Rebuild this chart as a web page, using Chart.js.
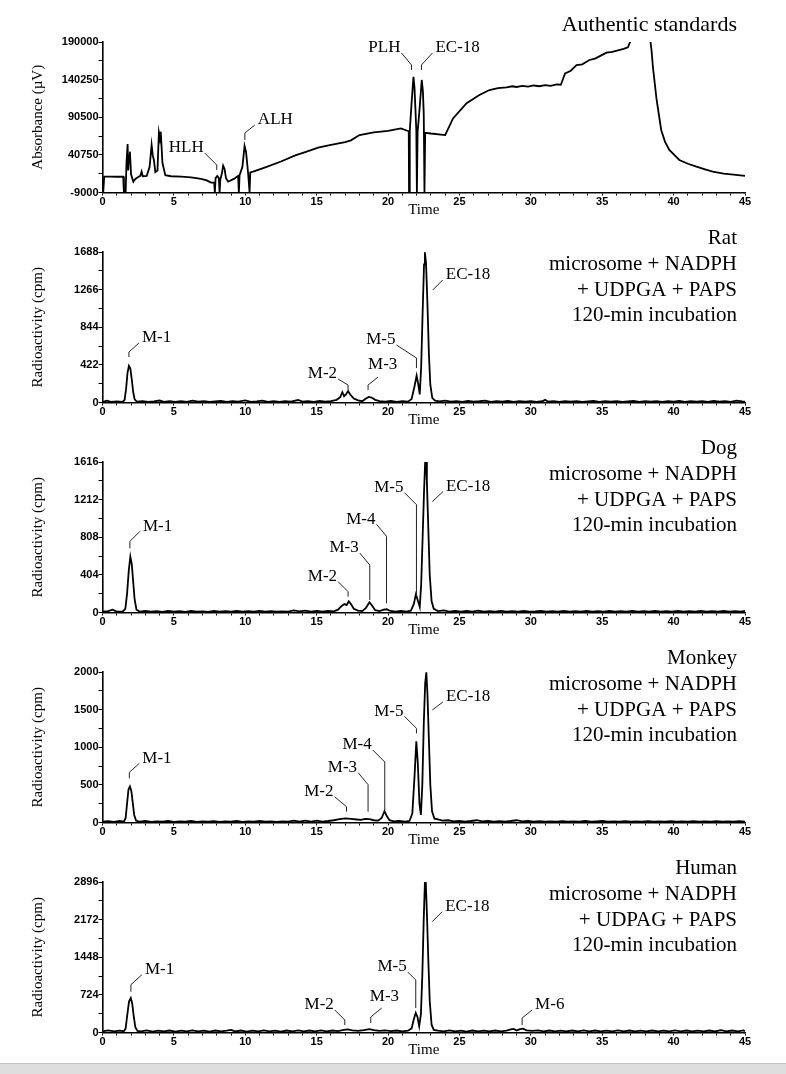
<!DOCTYPE html>
<html>
<head>
<meta charset="utf-8">
<script src="https://cdn.jsdelivr.net/npm/chart.js@4.4.1/dist/chart.umd.min.js"></script>
<style>
  html, body { margin: 0; padding: 0; background: #fff; }
  #wrap { position: relative; width: 786px; height: 1074px; overflow: hidden; }
  #wrap canvas { position: absolute; left: 0; }
  #band { position: absolute; left: 0; top: 1063px; width: 786px; height: 11px; background: #dedede; border-top: 1px solid #c4c4c4; }
</style>
</head>
<body>
<div id="wrap">
  <canvas id="p0" width="786" height="224" style="top:0px"></canvas>
  <canvas id="p1" width="786" height="224" style="top:210px"></canvas>
  <canvas id="p2" width="786" height="224" style="top:420px"></canvas>
  <canvas id="p3" width="786" height="224" style="top:630px"></canvas>
  <canvas id="p4" width="786" height="224" style="top:840px"></canvas>
  <div id="band"></div>
</div>
<script>
// ---- data: [time (min), signal] ----
const timeTicks = [0, 5, 10, 15, 20, 25, 30, 35, 40, 45];

const standardsTicks = [-9000, 40750, 90500, 140250, 190000];
const standardsTrace = [
  [0.05,-9000],[0.12,12000],[0.5,12000],[1.0,11800],[1.45,12000],[1.5,-9000],[1.62,-9000],
  [1.68,30000],[1.76,55000],[1.8,20000],[1.86,40000],[1.92,45000],[2.0,15000],[2.16,5300],
  [2.3,9000],[2.5,11500],[2.65,13000],[2.74,18500],[2.82,12500],[3.1,13000],[3.3,25000],
  [3.44,53800],[3.52,40000],[3.6,34000],[3.7,18000],[3.85,20000],[3.95,70000],[4.02,62000],
  [4.08,71400],[4.2,30000],[4.4,14000],[4.8,12500],[5.5,12000],[6.2,11000],[6.9,9000],
  [7.3,7000],[7.6,4000],[7.82,4200],[7.87,-9000],[7.92,10000],[8.04,12800],[8.15,10000],
  [8.2,-9000],[8.25,8000],[8.35,15000],[8.45,26400],[8.55,22000],[8.65,10000],[8.8,5300],
  [9.2,9000],[9.5,13000],[9.55,-9000],[9.6,14000],[9.8,25000],[9.95,52500],[10.05,45000],
  [10.2,16500],[10.3,-9000],[10.35,17500],[10.55,18500],[11.5,25000],[12.5,32000],
  [13.5,40000],[14.3,45000],[15.1,50200],[16.0,54000],[17.0,57500],[17.4,60000],[18.0,67000],
  [19.0,70500],[20.0,72500],[20.9,75800],[21.3,73000],[21.45,72000],[21.47,-9000],
  [21.52,72000],[21.65,110000],[21.78,144000],[21.85,130000],[21.92,100000],[21.98,72000],
  [22.02,-9000],[22.07,71000],[22.2,100000],[22.36,139800],[22.44,125000],[22.5,95000],
  [22.55,-9000],[22.6,70000],[23.0,69000],[24.0,67000],[24.55,89000],[25.5,109000],
  [26.4,120000],[27.1,126500],[27.7,129000],[28.3,130000],[28.7,131500],[29.0,130500],
  [29.4,132000],[29.8,131000],[30.2,132500],[30.6,131500],[31.0,133000],[31.4,132000],
  [31.8,134000],[32.1,133500],[32.4,148600],[32.8,152000],[33.2,159600],[33.6,160500],
  [34.1,166200],[34.5,168000],[34.9,172000],[35.3,176000],[35.7,177000],[36.1,179000],
  [36.5,181000],[36.8,183000],[36.95,190000],[37.05,230000],[38.3,230000],[38.38,190000],
  [38.45,180000],[38.55,157000],[38.8,115000],[39.13,73700],[39.4,58000],[39.7,47200],
  [40.4,34000],[41.0,29000],[41.6,25100],[42.2,21500],[42.74,18500],[43.5,16000],
  [44.2,14500],[45.0,13000]
];

const ratTicks = [0, 422, 844, 1266, 1688];
const ratTrace = [
  [0,5],[0.3,20],[0.6,8],[1.0,12],[1.4,6],[1.55,30],[1.65,150],[1.75,330],[1.85,410],[1.95,380],
  [2.05,260],[2.15,120],[2.25,35],[2.4,10],[2.8,15],[3.2,6],[3.6,12],[4.0,22],[4.3,8],[4.7,14],
  [5.1,6],[5.5,16],[5.9,8],[6.3,20],[6.7,10],[7.1,14],[7.5,6],[7.9,12],[8.3,18],[8.7,8],
  [9.1,14],[9.5,10],[10.0,24],[10.4,8],[10.8,12],[11.2,20],[11.6,8],[12.0,14],[12.4,6],
  [12.8,16],[13.2,10],[13.7,28],[14.0,10],[14.4,16],[14.8,8],[15.2,18],[15.6,10],[16.0,16],
  [16.4,30],[16.65,60],[16.8,115],[16.92,70],[17.05,90],[17.2,128],[17.35,90],[17.6,45],
  [17.9,25],[18.2,15],[18.45,45],[18.65,62],[18.85,55],[19.1,30],[19.4,15],[19.8,10],
  [20.2,18],[20.6,8],[21.0,14],[21.4,10],[21.65,40],[21.85,180],[22.0,300],[22.12,200],
  [22.22,90],[22.32,400],[22.42,1000],[22.52,1550],[22.58,1685],[22.66,1560],[22.76,1100],
  [22.86,550],[22.96,200],[23.1,50],[23.3,20],[23.6,12],[24.0,22],[24.4,10],[24.8,16],
  [25.2,8],[25.6,18],[26.0,10],[26.4,14],[26.8,20],[27.2,8],[27.6,15],[28.0,10],[28.4,18],
  [28.8,8],[29.2,14],[29.6,10],[30.0,16],[30.4,8],[30.8,14],[31.0,30],[31.2,10],[31.6,14],
  [32.0,8],[32.4,16],[32.8,10],[33.2,14],[33.6,6],[34.0,12],[34.4,18],[34.8,8],[35.2,14],
  [35.6,10],[36.0,16],[36.4,6],[36.8,12],[37.2,18],[37.6,8],[38.0,15],[38.4,10],[38.8,16],
  [39.2,8],[39.6,14],[40.0,10],[40.4,18],[40.8,8],[41.2,14],[41.6,10],[42.0,16],[42.4,8],
  [42.8,18],[43.2,10],[43.6,14],[44.0,8],[44.4,20],[44.8,12],[45.0,10]
];

const dogTicks = [0, 404, 808, 1212, 1616];
const dogTrace = [
  [0,8],[0.4,14],[0.7,30],[1.0,10],[1.4,8],[1.6,40],[1.72,200],[1.84,450],[1.95,600],[2.05,520],
  [2.15,330],[2.25,140],[2.38,30],[2.6,10],[3.0,16],[3.4,8],[3.8,14],[4.2,6],[4.6,18],[5.0,10],
  [5.4,14],[5.8,6],[6.2,16],[6.6,10],[7.0,12],[7.4,6],[7.8,16],[8.2,10],[8.6,14],[9.0,8],
  [9.4,16],[9.8,10],[10.2,14],[10.6,8],[11.0,18],[11.4,10],[11.8,14],[12.2,8],[12.6,12],
  [13.0,10],[13.4,22],[13.8,12],[14.2,20],[14.6,10],[15.0,18],[15.4,10],[15.8,16],[16.2,12],
  [16.5,30],[16.75,70],[16.95,90],[17.1,80],[17.25,120],[17.4,90],[17.6,40],[17.9,20],
  [18.2,15],[18.45,50],[18.7,110],[18.9,70],[19.1,25],[19.4,15],[19.7,30],[19.9,35],[20.1,20],
  [20.5,10],[20.9,16],[21.3,10],[21.6,20],[21.8,90],[21.95,195],[22.1,120],[22.22,60],
  [22.32,300],[22.42,800],[22.52,1300],[22.6,1616],[22.66,1640],[22.72,1400],[22.82,900],
  [22.92,400],[23.05,120],[23.2,40],[23.5,15],[23.9,22],[24.3,10],[24.7,18],[25.1,8],
  [25.5,16],[25.9,10],[26.3,20],[26.7,8],[27.1,14],[27.5,10],[27.9,18],[28.3,8],[28.7,14],
  [29.1,10],[29.5,16],[29.9,8],[30.3,12],[30.7,18],[31.1,8],[31.5,14],[31.9,10],[32.3,16],
  [32.7,8],[33.1,14],[33.5,10],[33.9,18],[34.3,8],[34.7,14],[35.1,10],[35.5,16],[35.9,8],
  [36.3,14],[36.7,10],[37.1,18],[37.5,8],[37.9,14],[38.3,10],[38.7,16],[39.1,8],[39.5,14],
  [39.9,10],[40.3,18],[40.7,8],[41.1,14],[41.5,10],[41.9,16],[42.3,8],[42.7,14],[43.1,10],
  [43.5,18],[43.9,8],[44.3,14],[44.7,10],[45.0,16]
];

const monkeyTicks = [0, 500, 1000, 1500, 2000];
const monkeyTrace = [
  [0,10],[0.4,18],[0.8,8],[1.2,20],[1.5,10],[1.62,60],[1.72,250],[1.82,440],[1.92,480],
  [2.02,420],[2.12,260],[2.22,100],[2.35,25],[2.6,10],[3.0,20],[3.4,8],[3.8,16],[4.2,10],
  [4.6,22],[5.0,8],[5.4,16],[5.8,12],[6.2,20],[6.6,8],[7.0,14],[7.4,10],[7.8,18],[8.2,8],
  [8.6,14],[9.0,10],[9.4,20],[9.8,8],[10.2,16],[10.6,10],[11.0,22],[11.4,10],[11.8,16],
  [12.2,8],[12.6,14],[13.0,10],[13.4,24],[13.8,10],[14.2,26],[14.6,12],[15.0,24],[15.4,12],
  [15.8,20],[16.2,30],[16.6,45],[17.0,55],[17.4,48],[17.8,40],[18.1,35],[18.4,48],[18.7,45],
  [19.0,30],[19.3,25],[19.55,60],[19.75,150],[19.9,90],[20.1,30],[20.4,15],[20.8,20],
  [21.2,12],[21.5,20],[21.7,120],[21.85,600],[21.98,1080],[22.08,800],[22.2,250],[22.3,100],
  [22.4,500],[22.5,1300],[22.6,1850],[22.68,1995],[22.76,1700],[22.86,1100],[22.96,500],
  [23.08,150],[23.25,50],[23.5,40],[23.8,25],[24.2,30],[24.6,15],[25.0,22],[25.4,12],
  [25.8,20],[26.2,30],[26.6,14],[27.0,20],[27.4,10],[27.8,18],[28.2,12],[28.6,20],[29.0,30],
  [29.4,14],[29.8,22],[30.2,12],[30.6,18],[31.0,10],[31.4,16],[31.8,12],[32.2,18],[32.6,10],
  [33.0,16],[33.4,12],[33.8,20],[34.2,10],[34.6,16],[35.0,22],[35.4,10],[35.8,16],[36.2,12],
  [36.6,18],[37.0,10],[37.4,14],[37.8,12],[38.2,18],[38.6,10],[39.0,14],[39.4,12],[39.8,18],
  [40.2,10],[40.6,14],[41.0,12],[41.4,18],[41.8,10],[42.2,14],[42.6,12],[43.0,18],[43.4,10],
  [43.8,14],[44.2,12],[44.6,18],[45.0,12]
];

const humanTicks = [0, 724, 1448, 2172, 2896];
const humanTrace = [
  [0,20],[0.4,40],[0.8,20],[1.2,35],[1.5,25],[1.62,80],[1.74,350],[1.86,600],[1.98,665],
  [2.08,560],[2.18,330],[2.3,100],[2.45,30],[2.7,20],[3.1,40],[3.5,18],[3.9,35],[4.3,20],
  [4.7,38],[5.1,18],[5.5,35],[5.9,20],[6.3,40],[6.7,20],[7.1,35],[7.5,18],[7.9,38],[8.3,20],
  [8.7,35],[9.0,50],[9.3,20],[9.7,38],[10.1,18],[10.5,35],[10.9,20],[11.3,40],[11.7,20],
  [12.1,35],[12.5,18],[12.9,38],[13.3,20],[13.7,40],[14.1,22],[14.5,38],[14.9,20],[15.3,40],
  [15.7,22],[16.1,38],[16.5,25],[16.9,50],[17.2,60],[17.5,40],[17.9,30],[18.3,45],[18.7,65],
  [19.0,45],[19.4,30],[19.8,40],[20.2,25],[20.6,38],[21.0,22],[21.4,35],[21.65,80],[21.8,250],
  [21.94,378],[22.06,300],[22.18,120],[22.3,350],[22.4,1100],[22.5,2200],[22.58,2880],
  [22.64,2900],[22.72,2300],[22.82,1400],[22.92,600],[23.05,150],[23.2,50],[23.5,35],
  [23.9,22],[24.3,40],[24.7,20],[25.1,35],[25.5,18],[25.9,38],[26.3,20],[26.7,35],[27.1,22],
  [27.5,38],[27.9,20],[28.3,35],[28.6,60],[28.8,70],[29.0,40],[29.25,65],[29.45,75],[29.7,40],
  [30.1,30],[30.5,40],[30.9,22],[31.3,38],[31.7,20],[32.1,35],[32.5,22],[32.9,38],[33.3,20],
  [33.7,40],[34.1,22],[34.5,38],[34.9,20],[35.3,35],[35.7,22],[36.1,40],[36.5,20],[36.9,38],
  [37.3,22],[37.7,35],[38.1,20],[38.5,38],[38.9,22],[39.3,35],[39.7,20],[40.1,40],[40.5,22],
  [40.9,38],[41.3,20],[41.7,35],[42.1,22],[42.5,38],[42.9,20],[43.3,45],[43.7,22],[44.1,38],
  [44.5,20],[44.9,40],[45.0,25]
];

const ratCaption = ['Rat', 'microsome + NADPH', '+ UDPGA + PAPS', '120-min incubation'];
const dogCaption = ['Dog', 'microsome + NADPH', '+ UDPGA + PAPS', '120-min incubation'];
const monkeyCaption = ['Monkey', 'microsome + NADPH', '+ UDPGA + PAPS', '120-min incubation'];
const humanCaption = ['Human', 'microsome + NADPH', '+ UDPAG + PAPS', '120-min incubation'];

// peak labels: tip at (t, v) in data units; up/dx/dy/tx/ty are the leader shape in px
const standardsPeaks = [
  {text: 'HLH', t: 8.0, v: 20750, up: 5, dx: -12, dy: 12},
  {text: 'ALH', t: 9.97, v: 60400, up: 7, dx: 10, dy: 8},
  {text: 'PLH', t: 21.64, v: 153000, up: 5, dx: -10, dy: 12},
  {text: 'EC-18', t: 22.34, v: 153000, up: 5, dx: 11, dy: 12}
];
const ratPeaks = [
  {text: 'M-1', t: 1.85, v: 510, up: 5, dx: 10, dy: 9},
  {text: 'M-2', t: 17.2, v: 140, up: 5, dx: -10, dy: 6},
  {text: 'M-3', t: 18.6, v: 140, up: 5, dx: 10, dy: 8, tx: -10, ty: -12},
  {text: 'M-5', t: 21.99, v: 387, up: 10, dx: -20, dy: 13},
  {text: 'EC-18', t: 23.13, v: 1262, up: 0, dx: 10, dy: 10}
];
const dogPeaks = [
  {text: 'M-1', t: 1.92, v: 689, up: 7, dx: 10, dy: 10},
  {text: 'M-2', t: 17.2, v: 170, up: 5, dx: -10, dy: 10},
  {text: 'M-3', t: 18.72, v: 134, up: 35, dx: -10, dy: 12},
  {text: 'M-4', t: 19.89, v: 99, up: 67, dx: -10, dy: 12},
  {text: 'M-5', t: 21.99, v: 170, up: 92, dx: -12, dy: 12},
  {text: 'EC-18', t: 23.1, v: 1190, up: 0, dx: 10.6, dy: 10}
];
const monkeyPeaks = [
  {text: 'M-1', t: 1.88, v: 587, up: 6, dx: 10, dy: 9},
  {text: 'M-2', t: 17.09, v: 144, up: 5, dx: -12, dy: 10},
  {text: 'M-3', t: 18.6, v: 144, up: 27, dx: -10, dy: 12},
  {text: 'M-4', t: 19.77, v: 166, up: 48, dx: -12, dy: 12},
  {text: 'M-5', t: 21.99, v: 1185, up: 5, dx: -12, dy: 12},
  {text: 'EC-18', t: 23.1, v: 1495, up: 0, dx: 10.6, dy: 8}
];
const humanPeaks = [
  {text: 'M-1', t: 1.99, v: 785, up: 7, dx: 11, dy: 10},
  {text: 'M-2', t: 16.97, v: 144, up: 5, dx: -10, dy: 10},
  {text: 'M-3', t: 18.79, v: 183, up: 6, dx: 11, dy: 9, tx: -12, ty: -11},
  {text: 'M-5', t: 21.94, v: 471, up: 28, dx: -8, dy: 8},
  {text: 'EC-18', t: 23.09, v: 2132, up: 0, dx: 10, dy: 10},
  {text: 'M-6', t: 29.39, v: 144, up: 7, dx: 10, dy: 8}
];

const SERIF = '"Liberation Serif", "Times New Roman", serif';
const tickFont = {family: '"Liberation Sans", Arial, sans-serif', size: 11, weight: 'bold'};

// draws axis titles, caption block and labelled leaders
const decor = {
    id: 'decor',
    afterDraw(chart, args, opts) {
        const ctx = chart.ctx;
        const xs = chart.scales.x, ys = chart.scales.y, area = chart.chartArea;
        ctx.save();
        ctx.fillStyle = '#000';
        ctx.strokeStyle = '#222';
        ctx.lineWidth = 1;

        // y title
        ctx.save();
        ctx.font = '15px ' + SERIF;
        ctx.translate(38, (area.top + area.bottom) / 2);
        ctx.rotate(-Math.PI / 2);
        ctx.textAlign = 'center';
        ctx.textBaseline = 'middle';
        ctx.fillText(opts.yTitle, 0, 0);
        ctx.restore();

        // x title
        ctx.font = '15px ' + SERIF;
        ctx.textAlign = 'center';
        ctx.textBaseline = 'middle';
        ctx.fillText('Time', (area.left + area.right) / 2, area.bottom + 17.5);

        // caption top right
        ctx.textAlign = 'right';
        if (opts.caption.length === 1) {
            ctx.font = '22px ' + SERIF;
            ctx.fillText(opts.caption[0], 737, 25);
        } else {
            ctx.font = '21px ' + SERIF;
            const rows = [28, 54, 80, 105];
            opts.caption.forEach((line, i) => ctx.fillText(line, 737, rows[i]));
        }

        // peak labels
        ctx.font = '17px ' + SERIF;
        opts.peaks.forEach(a => {
            const px = xs.getPixelForValue(a.t);
            const py = ys.getPixelForValue(a.v);
            const ex = px + a.dx, ey = py - a.up - a.dy;
            ctx.beginPath();
            ctx.moveTo(px, py);
            ctx.lineTo(px, py - a.up);
            ctx.lineTo(ex, ey);
            ctx.stroke();
            if (a.tx !== undefined) {
                ctx.textAlign = 'left';
                ctx.fillText(a.text, ex + a.tx, ey + a.ty);
            } else if (a.dx < 0) {
                ctx.textAlign = 'right';
                ctx.fillText(a.text, ex - 1, ey - 5);
            } else {
                ctx.textAlign = 'left';
                ctx.fillText(a.text, ex + 3, ey - 5);
            }
        });
        ctx.restore();
    }
};

function createPanel(elementId, trace, yTicks, yTitle, caption, peaks) {
    const ctx = document.getElementById(elementId).getContext('2d');
    const step = yTicks[1] - yTicks[0];
    const allTicks = [];
    yTicks.forEach((v, i) => {
        allTicks.push(v);
        if (i < yTicks.length - 1) allTicks.push(v + step / 2);
    });

    return new Chart(ctx, {
        type: 'line',
        data: {
            datasets: [{
                data: trace.map(p => ({x: p[0], y: p[1]})),
                borderColor: '#000',
                borderWidth: 1.8,
                pointRadius: 0,
                tension: 0,
                fill: false
            }]
        },
        options: {
            responsive: false,
            animation: false,
            layout: {padding: {left: 0, right: 41, top: 42, bottom: 0}},
            plugins: {
                legend: {display: false},
                tooltip: {enabled: false},
                decor: {yTitle: yTitle, caption: caption, peaks: peaks}
            },
            scales: {
                x: {
                    type: 'linear',
                    min: 0,
                    max: 45,
                    afterBuildTicks: scale => {
                        const t = [];
                        for (let i = 0; i <= 45; i++) t.push({value: i});
                        scale.ticks = t;
                    },
                    afterFit: scale => { scale.height = 31.5; },
                    ticks: {
                        autoSkip: false,
                        maxRotation: 0,
                        padding: 0,
                        color: '#000',
                        font: tickFont,
                        callback: v => timeTicks.includes(v) ? String(v) : ''
                    },
                    grid: {drawOnChartArea: false, drawTicks: true, tickLength: 3, color: '#000', lineWidth: 1},
                    border: {display: true, color: '#000', width: 1.6}
                },
                y: {
                    type: 'linear',
                    min: yTicks[0],
                    max: yTicks[yTicks.length - 1],
                    afterBuildTicks: scale => { scale.ticks = allTicks.map(v => ({value: v})); },
                    afterFit: scale => { scale.width = 102.5; },
                    ticks: {
                        autoSkip: false,
                        padding: 0,
                        color: '#000',
                        font: tickFont,
                        callback: v => yTicks.includes(v) ? String(v) : ''
                    },
                    grid: {drawOnChartArea: false, drawTicks: true, tickLength: 4, color: '#000', lineWidth: 1},
                    border: {display: true, color: '#000', width: 1.6}
                }
            }
        },
        plugins: [decor]
    });
}

createPanel('p0', standardsTrace, standardsTicks, 'Absorbance (\u00b5V)', ['Authentic standards'], standardsPeaks);
createPanel('p1', ratTrace, ratTicks, 'Radioactivity (cpm)', ratCaption, ratPeaks);
createPanel('p2', dogTrace, dogTicks, 'Radioactivity (cpm)', dogCaption, dogPeaks);
createPanel('p3', monkeyTrace, monkeyTicks, 'Radioactivity (cpm)', monkeyCaption, monkeyPeaks);
createPanel('p4', humanTrace, humanTicks, 'Radioactivity (cpm)', humanCaption, humanPeaks);
</script>
</body>
</html>
